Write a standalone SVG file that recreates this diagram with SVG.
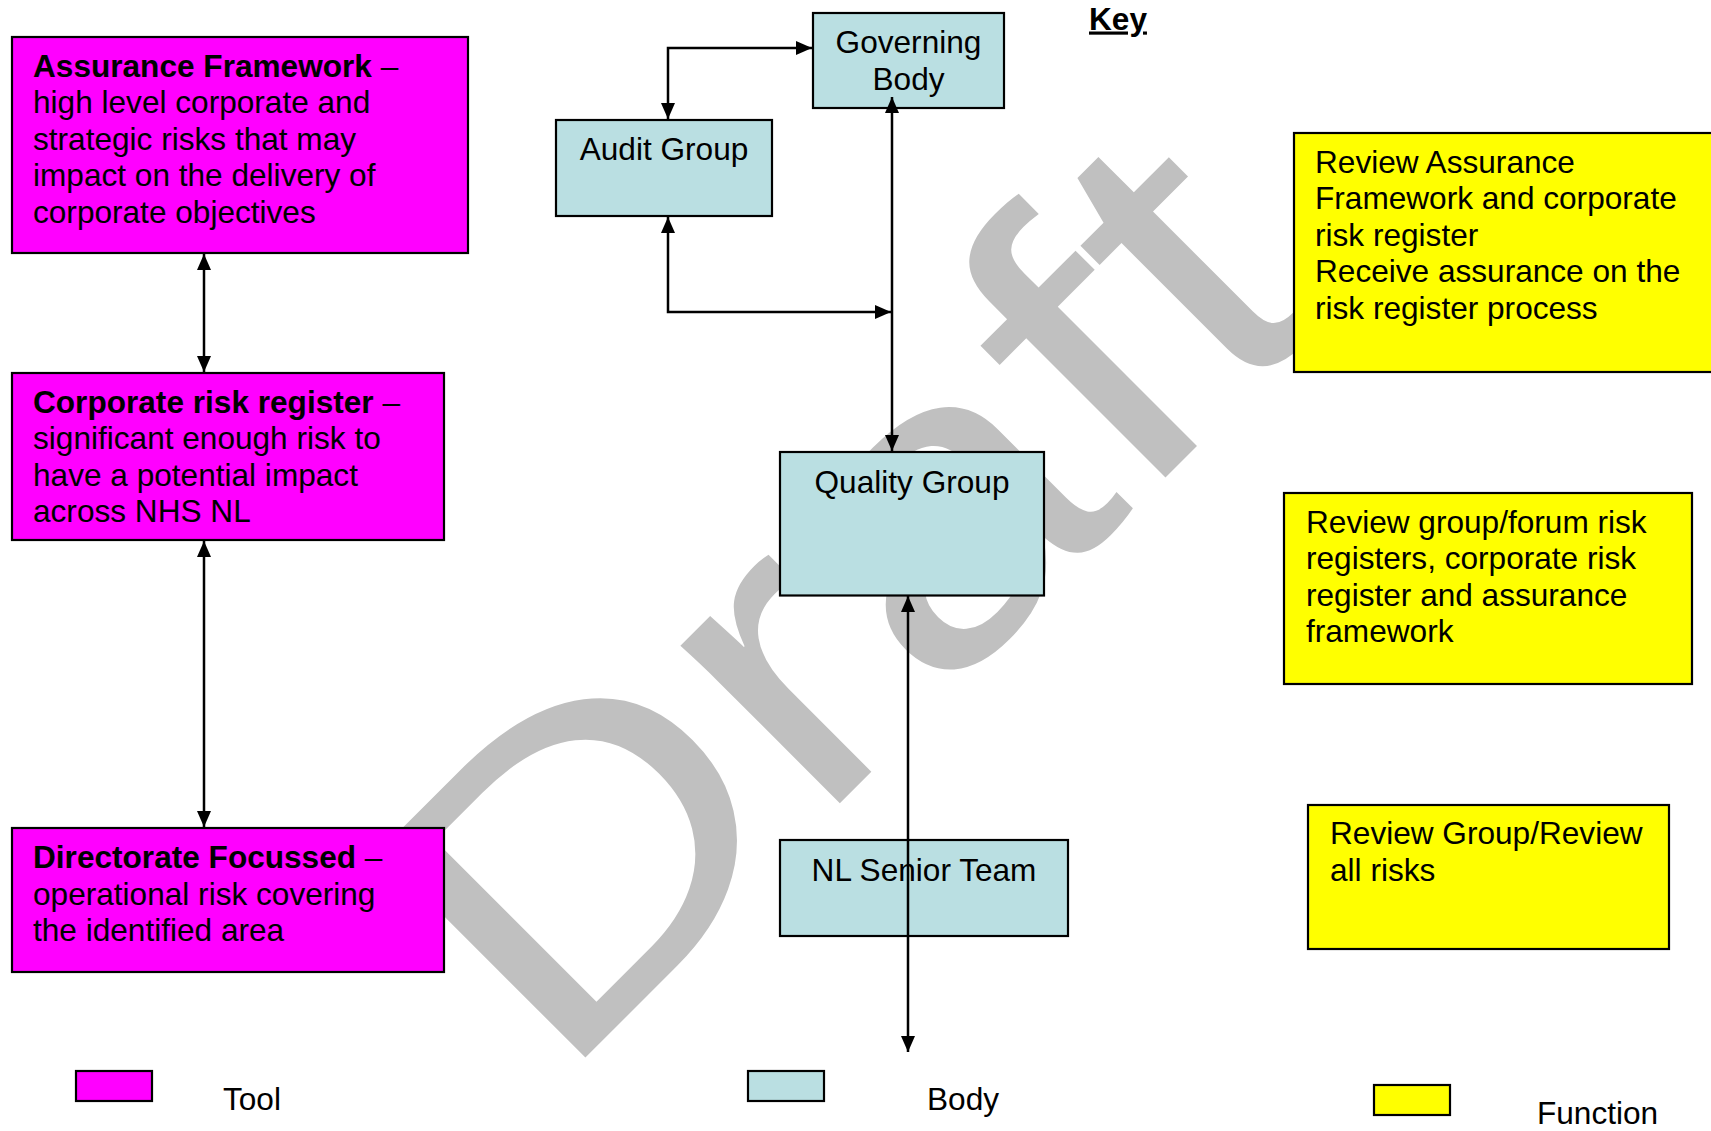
<svg xmlns="http://www.w3.org/2000/svg" width="1711" height="1131" viewBox="0 0 1711 1131">
<defs>
<style>
text{font-family:"Liberation Sans",Arial,sans-serif;font-size:31.6px;fill:#000}
.tool{fill:#ff00ff;stroke:#000;stroke-width:2.2}
.body{fill:#badfe2;stroke:#000;stroke-width:2.2}
.func{fill:#ffff00;stroke:#000;stroke-width:2.2}
.b{font-weight:bold}
.c{text-anchor:middle}
.ln{fill:none;stroke:#000;stroke-width:2.5}
.wm{font-size:424px;fill:#c0c0c0}
</style>
<marker id="ah" viewBox="0 0 16 14" refX="16" refY="7" markerWidth="16" markerHeight="14" markerUnits="userSpaceOnUse" orient="auto-start-reverse">
<path d="M0,0 L16,7 L0,14 z" fill="#000"/>
</marker>
</defs>
<rect width="1711" height="1131" fill="#fff"/>
<g id="watermark">
<text class="wm" transform="translate(556,1087) rotate(-45) scale(1.196,1)">Draft</text>
</g>
<g id="assurance-framework">
<rect class="tool" x="12" y="37" width="456" height="216"/>
<text x="33" y="77"><tspan class="b">Assurance Framework</tspan> –</text>
<text x="33" y="113.3">high level corporate and</text>
<text x="33" y="149.7">strategic risks that may</text>
<text x="33" y="186.1">impact on the delivery of</text>
<text x="33" y="222.5">corporate objectives</text>
</g>
<g id="corporate-risk-register">
<rect class="tool" x="12" y="373" width="432" height="167"/>
<text x="33" y="412.5"><tspan class="b">Corporate risk register</tspan> –</text>
<text x="33" y="449">significant enough risk to</text>
<text x="33" y="485.5">have a potential impact</text>
<text x="33" y="522">across NHS NL</text>
</g>
<g id="directorate-focussed">
<rect class="tool" x="12" y="828" width="432" height="144"/>
<text x="33" y="868"><tspan class="b">Directorate Focussed</tspan> –</text>
<text x="33" y="904.5">operational risk covering</text>
<text x="33" y="941">the identified area</text>
</g>
<g id="governing-body">
<rect class="body" x="813" y="13" width="191" height="95"/>
<text class="c" x="908.5" y="53">Governing</text>
<text class="c" x="908.5" y="89.5">Body</text>
</g>
<g id="audit-group">
<rect class="body" x="556" y="120" width="216" height="96"/>
<text class="c" x="664" y="159.5">Audit Group</text>
</g>
<g id="quality-group">
<rect class="body" x="780" y="452" width="264" height="143.5"/>
<text class="c" x="912" y="492.5">Quality Group</text>
</g>
<g id="nl-senior-team">
<rect class="body" x="780" y="840" width="288" height="96"/>
<text class="c" x="924" y="881">NL Senior Team</text>
</g>
<g id="function-1">
<rect class="func" x="1294" y="133" width="430" height="239"/>
<text x="1315" y="172.5">Review Assurance</text>
<text x="1315" y="209">Framework and corporate</text>
<text x="1315" y="245.5">risk register</text>
<text x="1315" y="282">Receive assurance on the</text>
<text x="1315" y="318.5">risk register process</text>
</g>
<g id="function-2">
<rect class="func" x="1284" y="493" width="408" height="191"/>
<text x="1306" y="532.5">Review group/forum risk</text>
<text x="1306" y="569">registers, corporate risk</text>
<text x="1306" y="605.5">register and assurance</text>
<text x="1306" y="642">framework</text>
</g>
<g id="function-3">
<rect class="func" x="1308" y="805" width="361" height="144"/>
<text x="1330" y="844">Review Group/Review</text>
<text x="1330" y="880.5">all risks</text>
</g>
<g id="connectors">
<line class="ln" x1="204" y1="254" x2="204" y2="372" marker-start="url(#ah)" marker-end="url(#ah)"/>
<line class="ln" x1="204" y1="541" x2="204" y2="827" marker-start="url(#ah)" marker-end="url(#ah)"/>
<polyline class="ln" points="812,48 668,48 668,119" marker-start="url(#ah)" marker-end="url(#ah)"/>
<polyline class="ln" points="668,217 668,312 891,312" marker-start="url(#ah)" marker-end="url(#ah)"/>
<line class="ln" x1="892" y1="97" x2="892" y2="451" marker-start="url(#ah)" marker-end="url(#ah)"/>
<line class="ln" x1="908" y1="596" x2="908" y2="1052" marker-start="url(#ah)" marker-end="url(#ah)"/>
</g>
<g id="key">
<text class="b" x="1089" y="29.5" text-decoration="underline">Key</text>
<rect class="tool" x="76" y="1071" width="76" height="30"/>
<text x="223" y="1110">Tool</text>
<rect class="body" x="748" y="1071" width="76" height="30"/>
<text x="927" y="1110">Body</text>
<rect class="func" x="1374" y="1085" width="76" height="30"/>
<text x="1537" y="1124">Function</text>
</g>
</svg>
